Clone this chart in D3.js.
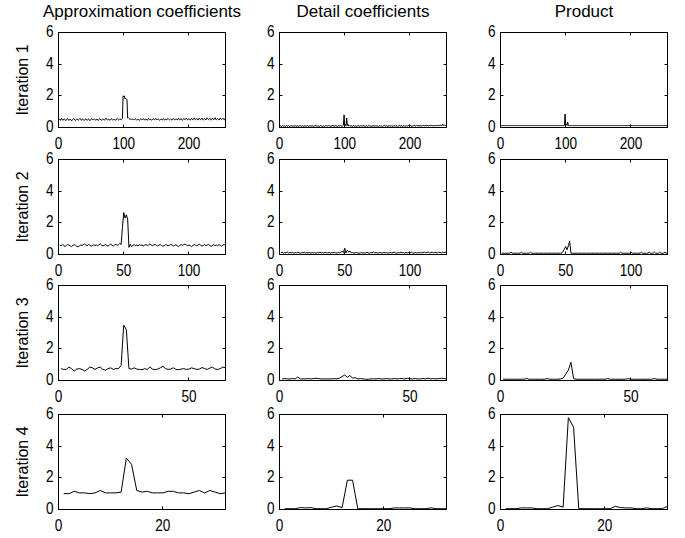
<!DOCTYPE html>
<html>
<head>
<meta charset="utf-8">
<script src="https://cdn.jsdelivr.net/npm/d3@7/dist/d3.min.js"></script>
<style>
  body { margin: 0; background: #fff; }
  svg text { fill: #000; }
</style>
</head>
<body>
<script>
// column titles and row labels
var titles = ["Approximation coefficients", "Detail coefficients", "Product"];
var rowLabels = ["Iteration 1", "Iteration 2", "Iteration 3", "Iteration 4"];
var xMax = [256, 128, 64, 32];
var xTicks = [[0, 100, 200], [0, 50, 100], [0, 50], [0, 20]];
var yTicks = [0, 2, 4, 6];

// iteration 1 (256 samples)
var approx1 = [
  0.5,0.55,0.45,0.53,0.57,0.48,0.45,0.52,0.55,0.5,0.43,0.47,0.53,0.56,0.51,0.45,0.49,0.54,0.48,0.42,
  0.46,0.51,0.57,0.53,0.48,0.44,0.5,0.55,0.52,0.46,0.49,0.53,0.58,0.51,0.45,0.48,0.54,0.5,0.44,0.47,
  0.52,0.56,0.5,0.45,0.51,0.55,0.49,0.43,0.48,0.53,0.57,0.52,0.47,0.5,0.55,0.51,0.45,0.49,0.54,0.48,
  0.44,0.5,0.56,0.53,0.47,0.45,0.51,0.55,0.5,0.46,0.49,0.54,0.59,0.52,0.47,0.5,0.53,0.48,0.45,0.51,
  0.56,0.52,0.46,0.49,0.53,0.5,0.45,0.48,0.54,0.57,0.51,0.47,0.5,0.55,0.52,0.48,0.53,0.57,
  2.0,1.95,2.0,1.8,1.85,1.8,1.75,
  0.6,0.62,0.57,0.53,0.51,0.55,0.52,0.5,0.54,0.51,0.48,0.52,0.55,0.51,0.46,0.5,0.53,0.49,0.45,0.51,
  0.55,0.52,0.48,0.51,0.56,0.53,0.47,0.5,0.54,0.49,0.45,0.52,0.57,0.51,0.48,0.53,0.5,0.46,0.51,0.55,
  0.52,0.48,0.54,0.58,0.51,0.47,0.52,0.55,0.5,0.45,0.49,0.54,0.51,0.47,0.53,0.56,0.5,0.46,0.51,0.55,
  0.49,0.53,0.57,0.52,0.48,0.51,0.55,0.5,0.46,0.52,0.58,0.53,0.48,0.5,0.55,0.51,0.47,0.53,0.59,0.52,
  0.47,0.51,0.56,0.5,0.45,0.52,0.57,0.53,0.49,0.54,0.6,0.53,0.48,0.52,0.56,0.51,0.46,0.53,0.58,0.52,
  0.49,0.55,0.61,0.53,0.48,0.52,0.57,0.51,0.47,0.54,0.59,0.52,0.49,0.55,0.6,0.53,0.47,0.51,0.57,0.52,
  0.48,0.54,0.61,0.55,0.49,0.53,0.58,0.51,0.46,0.52,0.59,0.54,0.49,0.55,0.62,0.53,0.48,0.52,0.57,0.51,
  0.47,0.53,0.6,0.55,0.5,0.54,0.59,0.52,0.48,0.55,0.51
];
var detail1 = [
  0.08,0.12,0.06,0.1,0.13,0.07,0.09,0.11,0.06,0.1,0.14,0.08,0.07,0.12,0.09,0.06,0.11,0.13,0.07,0.09,
  0.12,0.06,0.1,0.08,0.13,0.07,0.1,0.12,0.06,0.09,0.11,0.14,0.08,0.07,0.1,0.12,0.06,0.09,0.13,0.08,
  0.1,0.07,0.12,0.09,0.06,0.11,0.13,0.08,0.1,0.07,0.12,0.06,0.09,0.11,0.14,0.08,0.1,0.07,0.12,0.09,
  0.06,0.1,0.13,0.08,0.11,0.07,0.09,0.12,0.06,0.1,0.14,0.09,0.07,0.11,0.13,0.08,0.1,0.06,0.12,0.09,
  0.11,0.15,0.08,0.1,0.07,0.13,0.09,0.12,0.06,0.1,0.14,0.08,0.11,0.13,0.09,0.07,0.12,0.15,
  0.8,0.1,0.18,0.12,0.6,0.12,0.2,
  0.1,0.13,0.08,0.11,0.09,0.12,0.07,0.1,0.14,0.08,0.11,0.09,0.06,0.12,0.1,0.13,0.07,0.09,0.11,0.08,
  0.12,0.1,0.06,0.13,0.09,0.11,0.08,0.1,0.12,0.07,0.09,0.14,0.1,0.08,0.11,0.06,0.12,0.09,0.1,0.13,
  0.07,0.1,0.12,0.08,0.09,0.11,0.06,0.1,0.13,0.08,0.12,0.09,0.07,0.11,0.1,0.14,0.08,0.09,0.12,0.06,
  0.1,0.11,0.08,0.13,0.09,0.07,0.12,0.1,0.06,0.11,0.09,0.13,0.08,0.1,0.12,0.07,0.09,0.11,0.14,0.08,
  0.1,0.12,0.06,0.09,0.11,0.13,0.08,0.1,0.07,0.12,0.09,0.11,0.14,0.08,0.1,0.13,0.07,0.11,0.09,0.12,
  0.1,0.14,0.08,0.11,0.13,0.09,0.12,0.1,0.15,0.08,0.11,0.13,0.09,0.12,0.1,0.14,0.09,0.11,0.16,0.1,
  0.12,0.14,0.09,0.11,0.13,0.1,0.15,0.12,0.1,0.13,0.11,0.14,0.1,0.12,0.15,0.11,0.13,0.1,0.14,0.12,
  0.11,0.15,0.13,0.12,0.22,0.14,0.12,0.16,0.13,0.12,0.11
];
var product1 = [
  0.12,0.12,0.12,0.12,0.12,0.12,0.12,0.12,0.12,0.12,0.12,0.12,0.12,0.12,0.12,0.12,0.12,0.12,0.12,0.12,
  0.12,0.12,0.12,0.12,0.12,0.12,0.12,0.12,0.12,0.12,0.12,0.12,0.12,0.12,0.12,0.12,0.12,0.12,0.12,0.12,
  0.12,0.12,0.12,0.12,0.12,0.12,0.12,0.12,0.12,0.12,0.12,0.12,0.12,0.12,0.12,0.12,0.12,0.12,0.12,0.12,
  0.12,0.12,0.12,0.12,0.12,0.12,0.12,0.12,0.12,0.12,0.12,0.12,0.12,0.12,0.12,0.12,0.12,0.12,0.12,0.12,
  0.12,0.12,0.12,0.12,0.12,0.12,0.12,0.12,0.12,0.12,0.12,0.12,0.12,0.12,0.12,0.12,0.12,0.14,
  0.85,0.13,0.2,0.14,0.35,0.12,0.13,
  0.12,0.12,0.12,0.12,0.12,0.12,0.12,0.12,0.12,0.12,0.12,0.12,0.12,0.12,0.12,0.12,0.12,0.12,0.12,0.12,
  0.12,0.12,0.12,0.12,0.12,0.12,0.12,0.12,0.12,0.12,0.12,0.12,0.12,0.12,0.12,0.12,0.12,0.12,0.12,0.12,
  0.12,0.12,0.12,0.12,0.12,0.12,0.12,0.12,0.12,0.12,0.12,0.12,0.12,0.12,0.12,0.12,0.12,0.12,0.12,0.12,
  0.12,0.12,0.12,0.12,0.12,0.12,0.12,0.12,0.12,0.12,0.12,0.12,0.12,0.12,0.12,0.12,0.12,0.12,0.12,0.12,
  0.12,0.12,0.12,0.12,0.12,0.12,0.12,0.12,0.12,0.12,0.12,0.12,0.12,0.12,0.12,0.12,0.12,0.12,0.12,0.12,
  0.12,0.12,0.12,0.12,0.12,0.12,0.12,0.12,0.12,0.12,0.12,0.12,0.12,0.12,0.12,0.12,0.12,0.12,0.12,0.12,
  0.12,0.12,0.12,0.12,0.12,0.12,0.12,0.12,0.12,0.12,0.12,0.12,0.12,0.12,0.12,0.12,0.12,0.12,0.12,0.12,
  0.12,0.12,0.12,0.12,0.12,0.12,0.12,0.12,0.12,0.12,0.12
];

// iteration 2 (128 samples)
var approx2 = [
  0.6,0.55,0.62,0.58,0.5,0.56,0.63,0.6,0.54,0.5,0.57,0.62,0.58,0.52,0.48,0.55,0.6,0.57,0.62,0.66,
  0.6,0.55,0.63,0.58,0.52,0.56,0.61,0.57,0.6,0.55,0.62,0.67,0.6,0.54,0.58,0.63,0.57,0.52,0.6,0.65,
  0.58,0.53,0.6,0.64,0.58,0.62,0.7,0.63,
  1.7,2.65,2.3,2.5,2.25,0.45,0.65,0.5,
  0.58,0.62,0.56,0.6,0.55,0.62,0.58,0.6,0.54,0.59,0.63,0.57,0.6,0.66,0.6,0.55,0.6,0.64,0.58,0.54,
  0.6,0.63,0.57,0.52,0.56,0.62,0.6,0.55,0.58,0.64,0.6,0.54,0.57,0.62,0.56,0.5,0.57,0.63,0.58,0.62,
  0.66,0.6,0.55,0.6,0.56,0.5,0.57,0.62,0.6,0.55,0.6,0.65,0.58,0.53,0.58,0.62,0.56,0.6,0.64,0.57,
  0.52,0.58,0.62,0.56,0.6,0.55,0.63,0.58,0.52,0.6,0.64,0.57
];
var detail2 = [
  0.1,0.15,0.08,0.12,0.1,0.16,0.09,0.13,0.1,0.14,0.08,0.12,0.1,0.15,0.11,0.08,0.12,0.1,0.14,0.09,
  0.12,0.1,0.13,0.09,0.11,0.1,0.12,0.08,0.13,0.1,0.15,0.1,0.12,0.09,0.14,0.11,0.1,0.13,0.09,0.12,
  0.1,0.14,0.11,0.09,0.13,0.1,0.15,
  0.2,0.12,0.4,0.1,0.28,0.15,0.22,0.1,
  0.12,0.09,0.1,0.13,0.1,0.08,0.1,0.12,0.09,0.1,0.1,0.14,0.1,0.09,0.12,0.1,0.15,0.1,0.12,0.09,
  0.1,0.13,0.1,0.09,0.14,0.1,0.12,0.09,0.1,0.13,0.1,0.12,0.15,0.1,0.09,0.12,0.1,0.14,0.1,0.12,
  0.09,0.13,0.1,0.12,0.1,0.15,0.1,0.09,0.13,0.1,0.12,0.1,0.14,0.1,0.12,0.15,0.1,0.13,0.16,0.1,
  0.12,0.15,0.1,0.14,0.12,0.1,0.15,0.12,0.1,0.14,0.12,0.15,0.11
];
var product2 = [
  0.08,0.08,0.08,0.08,0.08,0.08,0.08,0.15,0.08,0.08,0.08,0.08,0.08,0.08,0.08,0.15,0.08,0.08,0.08,0.08,
  0.08,0.08,0.15,0.08,0.08,0.08,0.08,0.08,0.08,0.08,0.08,0.08,0.08,0.08,0.08,0.08,0.08,0.08,0.08,0.08,
  0.08,0.08,0.08,0.08,0.08,0.08,0.1,
  0.2,0.35,0.5,0.3,0.55,0.85,0.08,
  0.08,0.08,0.08,0.08,0.08,0.08,0.08,0.08,0.08,0.08,0.08,0.08,0.08,0.08,0.08,0.08,0.08,0.08,0.08,0.08,
  0.08,0.08,0.08,0.08,0.08,0.08,0.08,0.08,0.08,0.08,0.08,0.08,0.08,0.08,0.08,0.08,0.08,0.15,0.08,0.08,
  0.08,0.08,0.08,0.08,0.08,0.15,0.08,0.08,0.08,0.08,0.08,0.08,0.08,0.15,0.08,0.08,0.08,0.08,0.08,0.15,
  0.08,0.08,0.08,0.15,0.08,0.08,0.08,0.15,0.08,0.08,0.08,0.15,0.08,0.08
];

// iteration 3 (64 samples)
var approx3 = [
  0.75,0.7,0.7,0.85,0.75,0.6,0.72,0.75,0.7,0.6,0.7,0.85,0.8,0.7,0.8,0.85,0.7,0.65,0.75,0.8,0.7,0.75,
  0.75,0.95,3.5,3.2,0.75,
  0.72,0.8,0.72,0.7,0.68,0.75,0.7,0.85,0.72,0.68,0.72,0.8,0.9,0.75,0.7,0.72,0.8,0.7,0.68,0.72,
  0.75,0.7,0.72,0.8,0.75,0.7,0.72,0.82,0.75,0.7,0.78,0.85,0.72,0.7,0.75,0.85,0.8
];
var detail3 = [
  0.1,0.12,0.1,0.1,0.12,0.1,0.22,0.1,0.1,0.1,0.12,0.1,0.12,0.14,0.12,0.1,0.1,0.1,0.1,0.1,0.12,0.1,
  0.15,0.25,0.35,0.2,0.32,0.15,0.18,
  0.1,0.12,0.1,0.08,0.08,0.1,0.1,0.1,0.12,0.1,0.1,0.12,0.1,0.1,0.12,0.1,0.12,0.12,0.1,0.14,
  0.12,0.1,0.12,0.1,0.1,0.12,0.1,0.14,0.1,0.12,0.1,0.12,0.14,0.12,0.1
];
var product3 = [
  0.08,0.08,0.08,0.08,0.08,0.08,0.08,0.08,0.08,0.12,0.08,0.08,0.08,0.08,0.08,0.08,0.08,0.12,0.08,0.08,0.08,0.08,
  0.1,0.15,0.4,0.65,1.15,0.12,
  0.08,0.08,0.08,0.08,0.08,0.08,0.08,0.08,0.08,0.08,0.08,0.08,0.12,0.08,0.08,0.08,0.08,0.08,0.08,0.08,
  0.12,0.08,0.08,0.08,0.08,0.08,0.08,0.08,0.08,0.08,0.12,0.08,0.08,0.08,0.08,0.08
];

// iteration 4 (32 samples)
var approx4 = [1.0,1.0,1.15,1.05,1.05,1.0,1.05,1.2,1.05,1.05,1.05,1.1,3.25,2.85,1.2,1.1,
               1.15,1.05,1.05,1.05,1.15,1.15,1.05,1.05,1.0,1.1,1.2,1.05,1.2,1.1,1.0,1.05];
var detail4 = [0.05,0.05,0.05,0.12,0.1,0.12,0.05,0.05,0.05,0.15,0.22,0.12,1.85,1.85,0.05,0.05,
               0.05,0.05,0.05,0.05,0.05,0.1,0.1,0.1,0.1,0.05,0.05,0.05,0.1,0.05,0.05,0.05];
var product4 = [0.05,0.05,0.05,0.1,0.1,0.1,0.05,0.05,0.05,0.15,0.25,0.15,5.8,5.2,0.05,0.05,
                0.05,0.05,0.05,0.05,0.05,0.2,0.12,0.1,0.1,0.05,0.05,0.1,0.05,0.05,0.05,0.2];

var series = [
  [approx1, detail1, product1],
  [approx2, detail2, product2],
  [approx3, detail3, product3],
  [approx4, detail4, product4]
];

var width = 685, height = 538;
var colLeft = [58.5, 279.5, 500.5];
var rowTop = [32.5, 159.5, 285.5, 414.5];
var boxW = 167, boxH = 95;
var tickLen = 3;
var squeeze = 0.85;   // tick digits are narrower than the sans font

var svg = d3.select("body").append("svg")
  .attr("width", width).attr("height", height)
  .style("font-family", "'Liberation Sans', Arial, sans-serif");

function tickText(g, px, py, anchor, label) {
  g.append("text")
    .attr("transform", "translate(" + px + "," + py + ") scale(" + squeeze + ",1)")
    .attr("text-anchor", anchor)
    .attr("dy", "0.35em")
    .style("font-size", "16px")
    .text(label);
}

for (var r = 0; r < 4; r++) {
  for (var c = 0; c < 3; c++) {
    var x = d3.scaleLinear().domain([0, xMax[r]]).range([0, boxW]);
    var y = d3.scaleLinear().domain([0, 6]).range([boxH, 0]);
    var g = svg.append("g").attr("transform", "translate(" + colLeft[c] + "," + rowTop[r] + ")");

    var line = d3.line()
      .x(function(d, i) { return x(i + 1); })
      .y(function(d) { return y(d); });

    g.append("path")
      .datum(series[r][c])
      .attr("d", line)
      .attr("fill", "none")
      .attr("stroke", "#000")
      .attr("stroke-width", 1);

    // box
    g.append("rect").attr("x", 0).attr("y", 0).attr("width", boxW).attr("height", boxH)
      .attr("fill", "none").attr("stroke", "#000").attr("stroke-width", 1);

    // ticks inside, on all four sides
    xTicks[r].forEach(function(t) {
      var px = Math.round(x(t));
      g.append("line").attr("x1", px).attr("x2", px).attr("y1", boxH).attr("y2", boxH - tickLen).attr("stroke", "#000");
      g.append("line").attr("x1", px).attr("x2", px).attr("y1", 0).attr("y2", tickLen).attr("stroke", "#000");
      tickText(g, x(t), boxH + 16, "middle", t);
    });
    yTicks.forEach(function(t) {
      var py = Math.round(y(t));
      g.append("line").attr("x1", 0).attr("x2", tickLen).attr("y1", py).attr("y2", py).attr("stroke", "#000");
      g.append("line").attr("x1", boxW).attr("x2", boxW - tickLen).attr("y1", py).attr("y2", py).attr("stroke", "#000");
      tickText(g, -5, y(t) - 1, "end", t);
    });

    if (r === 0) {
      g.append("text").attr("x", boxW / 2).attr("y", -16)
        .attr("text-anchor", "middle").style("font-size", "17px")
        .text(titles[c]);
    }
    if (c === 0) {
      g.append("text")
        .attr("transform", "translate(-31," + (boxH / 2) + ") rotate(-90)")
        .attr("text-anchor", "middle").style("font-size", "16px")
        .text(rowLabels[r]);
    }
  }
}
</script>
</body>
</html>
